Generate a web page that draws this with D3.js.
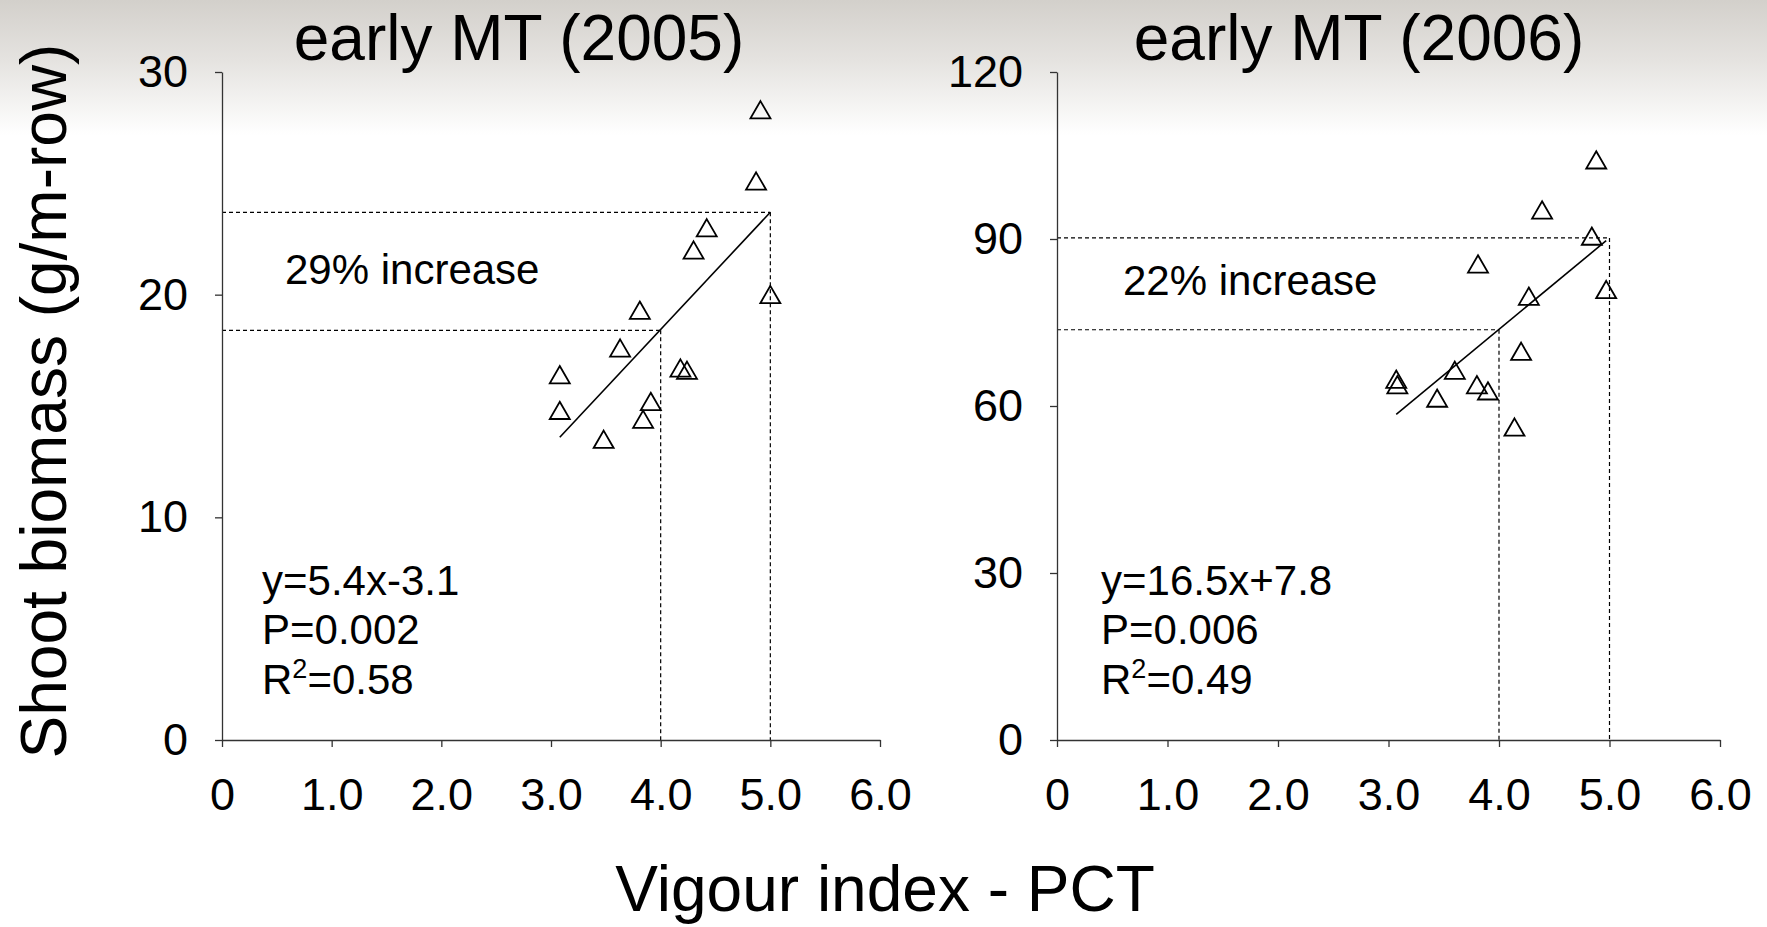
<!DOCTYPE html>
<html>
<head>
<meta charset="utf-8">
<title>Shoot biomass vs vigour index</title>
<script src="https://cdn.jsdelivr.net/npm/d3@7"></script>
<style>
    body { margin: 0; background: #fff; }
    svg { display: block; }
    text { font-family: "Liberation Sans", Arial, sans-serif; fill: #000; }
</style>
</head>
<body>
<script>

    // data
    var xTicks = [0, 1, 2, 3, 4, 5, 6]
    var yTicks2005 = [0, 10, 20, 30]
    var yTicks2006 = [0, 30, 60, 90, 120]

    var vigour2005 = [4.91, 4.87, 4.42, 4.30, 5.00, 3.81, 3.63, 3.08, 4.18, 4.24, 3.08, 3.91, 3.84, 3.48]
    var biomass2005 = [28.2, 25.0, 22.9, 21.9, 19.9, 19.2, 17.5, 16.3, 16.6, 16.5, 14.7, 15.1, 14.3, 13.4]
    var vigour2006 = [4.88, 4.39, 4.84, 3.81, 4.27, 4.97, 4.20, 3.07, 3.08, 3.60, 3.44, 3.80, 3.90, 4.14]
    var biomass2006 = [103.8, 94.8, 90.1, 85.1, 79.3, 80.5, 69.4, 64.4, 63.4, 66.0, 61.0, 63.4, 62.3, 55.8]

    // regression line ends and the 4.0 / 5.0 read-offs
    var fitX2005 = [3.08, 5.0], fitY2005 = [13.6, 23.7]
    var fitX2006 = [3.07, 4.97], fitY2006 = [58.5, 89.7]
    var guideX2005 = [4.0, 5.0], guideY2005 = [18.4, 23.7]
    var guideX2006 = [4.0, 5.0], guideY2006 = [73.7, 90.2]

    var titles = ["early MT (2005)", "early MT (2006)"]
    var increases = ["29% increase", "22% increase"]
    var equations = ["y=5.4x-3.1", "y=16.5x+7.8"]
    var pValues = ["P=0.002", "P=0.006"]
    var r2Values = ["0.58", "0.49"]

    var width = 1767, height = 927

    var svg = d3.select('body').append('svg')
        .attr('width', width)
        .attr('height', height)

    // faded photo strip at the top
    var grad = svg.append('defs').append('linearGradient')
        .attr('id', 'bg').attr('x1', 0).attr('y1', 0).attr('x2', 0).attr('y2', 1)
    grad.append('stop').attr('offset', '0%').attr('stop-color', '#d3d0cb')
    grad.append('stop').attr('offset', '45%').attr('stop-color', '#e5e3e0')
    grad.append('stop').attr('offset', '100%').attr('stop-color', '#ffffff')
    svg.append('rect').attr('width', width).attr('height', height).attr('fill', '#fff')
    svg.append('rect').attr('width', width).attr('height', 135).attr('fill', 'url(#bg)')

    var tri = 'M0,-11L10,6.3L-10,6.3Z'
    var fmtX = function (d) { return d === 0 ? '0' : d3.format('.1f')(d) }

    var panels = [
        {left: 222, right: 880, yMax: 30, yTicks: yTicks2005, vx: vigour2005, vy: biomass2005,
         fx: fitX2005, fy: fitY2005, gx: guideX2005, gy: guideY2005, titleX: 519, incX: 285, incY: 284, eqX: 262},
        {left: 1057, right: 1720, yMax: 120, yTicks: yTicks2006, vx: vigour2006, vy: biomass2006,
         fx: fitX2006, fy: fitY2006, gx: guideX2006, gy: guideY2006, titleX: 1359, incX: 1123, incY: 295, eqX: 1101}
    ]

    panels.forEach(function (p, i) {
        var x = d3.scaleLinear().domain([0, 6]).range([p.left, p.right])
        var y = d3.scaleLinear().domain([0, p.yMax]).range([740, 72])
        var g = svg.append('g')

        // dashed read-off lines
        var dash = g.append('g')
            .attr('stroke', '#000').attr('stroke-width', 1.2).attr('stroke-dasharray', '4,3')
        p.gx.forEach(function (gx, k) {
            dash.append('line')
                .attr('x1', x(0)).attr('y1', y(p.gy[k]))
                .attr('x2', x(gx)).attr('y2', y(p.gy[k]))
            dash.append('line')
                .attr('x1', x(gx)).attr('y1', y(p.gy[k]))
                .attr('x2', x(gx)).attr('y2', y(0))
        })

        var ax = g.append('g').attr('transform', 'translate(0,' + y(0) + ')')
            .call(d3.axisBottom(x).tickValues(xTicks).tickFormat(fmtX).tickSize(7).tickSizeOuter(0).tickPadding(31))
        var ay = g.append('g').attr('transform', 'translate(' + x(0) + ',0)')
            .call(d3.axisLeft(y).tickValues(p.yTicks).tickSize(7).tickSizeOuter(0).tickPadding(27))
        ;[ax, ay].forEach(function (a) {
            a.select('.domain').attr('stroke', '#333').attr('stroke-width', 1.3)
            a.selectAll('.tick line').attr('stroke', '#333').attr('stroke-width', 1.3)
            a.selectAll('text').attr('font-size', 45).attr('fill', '#000')
                .style('font-family', '"Liberation Sans", Arial, sans-serif')
        })

        // fit line
        g.append('line')
            .attr('x1', x(p.fx[0])).attr('y1', y(p.fy[0]))
            .attr('x2', x(p.fx[1])).attr('y2', y(p.fy[1]))
            .attr('stroke', '#000').attr('stroke-width', 1.6)

        // points
        g.selectAll('path.pt').data(p.vx).enter().append('path')
            .attr('class', 'pt')
            .attr('d', tri)
            .attr('transform', function (d, k) { return 'translate(' + x(d) + ',' + y(p.vy[k]) + ')' })
            .attr('fill', 'none')
            .attr('stroke', '#000')
            .attr('stroke-width', 1.8)

        g.append('text').attr('x', p.titleX).attr('y', 60)
            .attr('text-anchor', 'middle').attr('font-size', 64).text(titles[i])
        g.append('text').attr('x', p.incX).attr('y', p.incY)
            .attr('font-size', 42).text(increases[i])

        g.append('text').attr('x', p.eqX).attr('y', 595).attr('font-size', 42).text(equations[i])
        g.append('text').attr('x', p.eqX).attr('y', 644).attr('font-size', 42).text(pValues[i])
        var r = g.append('text').attr('x', p.eqX).attr('y', 694).attr('font-size', 42)
        r.append('tspan').text('R')
        r.append('tspan').attr('font-size', 27).attr('dy', -16).text('2')
        r.append('tspan').attr('dy', 16).text('=' + r2Values[i])
    })

    svg.append('text')
        .attr('transform', 'translate(66,401) rotate(-90)')
        .attr('text-anchor', 'middle')
        .attr('font-size', 64)
        .text('Shoot biomass (g/m-row)')

    svg.append('text')
        .attr('x', 885).attr('y', 911)
        .attr('text-anchor', 'middle')
        .attr('font-size', 64)
        .text('Vigour index - PCT')

</script>
</body>
</html>
